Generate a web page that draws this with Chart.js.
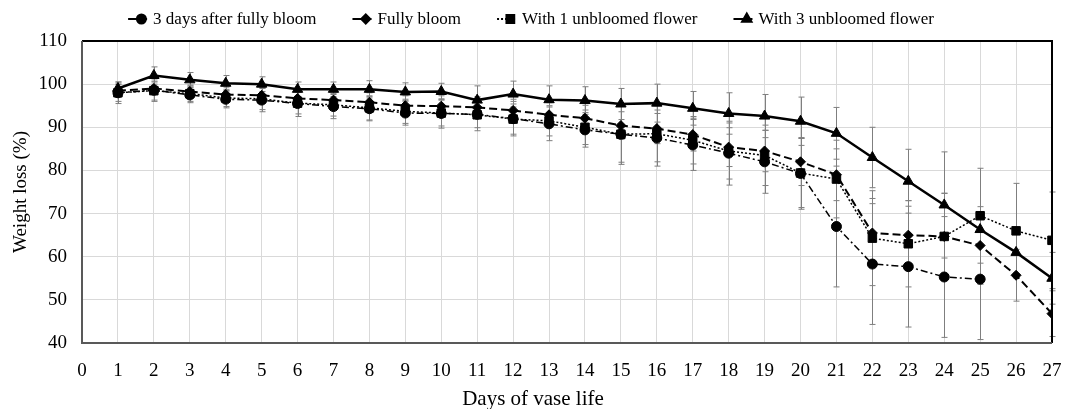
<!DOCTYPE html>
<html lang="en">
  <head>
    <meta charset="UTF-8" />
    <title>Weight loss</title>
    <script src="https://cdn.jsdelivr.net/npm/chart.js"></script>
    <style>
      html, body { margin: 0; padding: 0; background: #fff; overflow: hidden; }
      #wrap { width: 1067px; height: 409px; position: relative; }
    </style>
  </head>
  <body>
    <div id="wrap"><canvas id="weightChart"></canvas></div>

    <script>
// Days of vase life
const days = [1,2,3,4,5,6,7,8,9,10,11,12,13,14,15,16,17,18,19,20,21,22,23,24,25,26,27];
const xTicks = [0,1,2,3,4,5,6,7,8,9,10,11,12,13,14,15,16,17,18,19,20,21,22,23,24,25,26,27];
const yTicks = [40,50,60,70,80,90,100,110];

// 3 days after fully bloom
const threeDays = [98.0,98.6,97.5,96.5,96.3,95.5,94.8,94.3,93.3,93.2,93.0,92.0,90.8,89.4,88.4,87.5,85.9,84.0,82.0,79.3,67.0,58.3,57.7,55.3,54.8,null,null];
const threeDaysErr = [2.5,2.6,1.8,2.0,2.7,3.0,2.8,2.8,2.8,3.4,3.8,4.0,3.9,4.0,7.0,6.5,5.9,7.4,7.3,8.3,14.0,14.0,14.0,14.0,14.0,null,null];

// Fully bloom
const fullyBloom = [98.5,99.0,98.3,97.6,97.4,96.7,96.3,95.8,95.0,94.9,94.6,93.9,92.9,92.1,90.4,89.7,88.3,85.4,84.5,82.0,79.0,65.5,65.0,64.7,62.6,55.7,46.8];
const fullyBloomErr = [1.5,1.5,1.5,1.7,1.8,2.0,2.0,2.2,2.3,2.4,2.5,2.6,2.8,3.0,3.2,3.5,3.8,4.5,4.8,5.5,6.0,8.0,8.0,10.0,9.0,6.0,5.3];

// With 1 unbloomed flower
const oneUnbloomed = [98.0,98.5,97.8,96.8,96.6,95.6,95.2,94.5,93.7,93.3,92.9,91.9,91.5,90.0,88.4,88.5,87.0,84.5,83.5,79.4,78.0,64.3,63.0,64.7,69.5,66.0,63.8];
const oneUnbloomedErr = [2.0,2.2,1.8,2.0,2.5,2.5,2.6,2.8,2.8,3.0,3.0,3.5,3.5,4.0,6.5,6.5,5.5,6.5,7.0,8.0,9.0,11.0,10.0,10.0,11.0,11.0,11.2];

// With 3 unbloomed flower
const threeUnbloomed = [99.0,102.0,101.0,100.2,100.0,98.8,98.8,98.8,98.2,98.3,96.3,97.7,96.4,96.2,95.4,95.6,94.4,93.2,92.6,91.4,88.6,83.0,77.5,72.0,66.3,61.0,55.0];
const threeUnbloomedErr = [1.5,2.0,1.7,1.8,1.7,1.7,1.7,2.0,2.1,1.9,3.3,3.0,3.2,3.2,3.6,4.4,3.9,4.8,5.0,5.6,6.0,7.0,7.4,12.3,4.0,5.0,6.0];

const serif = "'Liberation Serif', 'Times New Roman', serif";

function toPoints(vals) {
  return days.map((d, i) => ({ x: d, y: vals[i] }));
}

function series(label, vals, errs, style, radius, width, dash, legendDash) {
  return {
    label: label,
    data: toPoints(vals),
    errors: errs,
    legendDash: legendDash,
    borderColor: '#000',
    backgroundColor: '#000',
    borderWidth: width,
    borderDash: dash,
    pointStyle: style,
    pointRadius: radius,
    pointBorderWidth: 1,
    pointBackgroundColor: '#000',
    pointBorderColor: '#000',
    tension: 0,
    spanGaps: false
  };
}

// error bars, drawn under the lines
const errorBars = {
  id: 'errorBars',
  beforeDatasetsDraw(chart) {
    const ctx = chart.ctx;
    const xs = chart.scales.x, ys = chart.scales.y;
    ctx.save();
    ctx.strokeStyle = '#7f7f7f';
    ctx.lineWidth = 1;
    chart.data.datasets.forEach(ds => {
      ds.data.forEach((p, i) => {
        const e = ds.errors[i];
        if (p.y == null || e == null) return;
        const px = Math.round(xs.getPixelForValue(p.x)) + 0.5;
        const top = ys.getPixelForValue(p.y + e);
        const bot = ys.getPixelForValue(p.y - e);
        ctx.beginPath();
        ctx.moveTo(px, top); ctx.lineTo(px, bot);
        ctx.moveTo(px - 3, top); ctx.lineTo(px + 3, top);
        ctx.moveTo(px - 3, bot); ctx.lineTo(px + 3, bot);
        ctx.stroke();
      });
    });
    ctx.restore();
  }
};

// frame around the plot, x title and the line+marker legend on top
const frameAndLegend = {
  id: 'frameAndLegend',
  afterDraw(chart) {
    const ctx = chart.ctx;
    const a = chart.chartArea;
    ctx.save();
    ctx.lineWidth = 2;
    ctx.strokeStyle = '#000';
    ctx.beginPath();
    ctx.moveTo(a.left, a.top); ctx.lineTo(a.right, a.top); ctx.lineTo(a.right, a.bottom);
    ctx.stroke();
    ctx.strokeStyle = '#595959';
    ctx.beginPath();
    ctx.moveTo(a.left, a.top); ctx.lineTo(a.left, a.bottom); ctx.lineTo(a.right, a.bottom);
    ctx.stroke();

    ctx.fillStyle = '#000';
    ctx.textBaseline = 'middle';
    ctx.textAlign = 'center';
    ctx.font = '21px ' + serif;
    ctx.fillText('Days of vase life', 533, 399);

    ctx.textAlign = 'left';
    ctx.font = '17px ' + serif;
    const sample = 19, gap = 6, spacing = 36;
    const items = chart.data.datasets;
    let total = 0;
    items.forEach((ds, i) => {
      total += sample + gap + ctx.measureText(ds.label).width + (i < items.length - 1 ? spacing : 0);
    });
    let x = 531 - total / 2;
    const y = 19;
    items.forEach(ds => {
      ctx.strokeStyle = '#000';
      ctx.lineWidth = 2;
      ctx.setLineDash(ds.legendDash);
      ctx.beginPath();
      ctx.moveTo(x, y); ctx.lineTo(x + sample, y);
      ctx.stroke();
      ctx.setLineDash([]);
      Chart.helpers.drawPoint(ctx, {
        pointStyle: ds.pointStyle, radius: ds.pointRadius - 0.5, rotation: 0, borderWidth: 1
      }, x + sample * 0.7, y);
      ctx.fill();
      x += sample + gap;
      ctx.fillText(ds.label, x, y + 1);
      x += ctx.measureText(ds.label).width + spacing;
    });
    ctx.restore();
  }
};

const d1 = series('3 days after fully bloom', threeDays, threeDaysErr, 'circle', 5, 1.5, [7, 3, 2, 3], []);
const d2 = series('Fully bloom', fullyBloom, fullyBloomErr, 'rectRot', 5, 2, [8, 4], []);
const d3 = series('With 1 unbloomed flower', oneUnbloomed, oneUnbloomedErr, 'rect', 6, 1.5, [2, 2], [2, 2]);
const d4 = series('With 3 unbloomed flower', threeUnbloomed, threeUnbloomedErr, 'triangle', 6, 2.5, [], []);

new Chart(document.getElementById('weightChart'), {
  type: 'line',
  data: { datasets: [d1, d2, d3, d4] },
  options: {
    responsive: true,
    maintainAspectRatio: false,
    animation: false,
    layout: { padding: { left: 0, top: 41, right: 15, bottom: 0 } },
    plugins: {
      legend: { display: false },
      tooltip: { enabled: false }
    },
    scales: {
      x: {
        type: 'linear',
        min: 0,
        max: 27,
        afterBuildTicks(scale) { scale.ticks = xTicks.map(v => ({ value: v })); },
        afterFit(scale) { scale.height = 66; scale.paddingLeft = 0; scale.paddingRight = 0; },
        grid: { color: '#d9d9d9', lineWidth: 1, drawTicks: false },
        border: { display: false },
        ticks: { color: '#000', padding: 17, font: { family: serif, size: 19 }, maxRotation: 0, autoSkip: false },
        title: { display: false }
      },
      y: {
        min: 40,
        max: 110,
        afterBuildTicks(scale) { scale.ticks = yTicks.map(v => ({ value: v })); },
        afterFit(scale) { scale.width = 82; },
        grid: { color: '#d9d9d9', lineWidth: 1, drawTicks: false },
        border: { display: false },
        ticks: { color: '#000', padding: 15, font: { family: serif, size: 19 } },
        title: { display: true, text: 'Weight loss (%)', color: '#000', font: { family: serif, size: 19, lineHeight: 1 }, padding: { top: 12, bottom: 0 } }
      }
    }
  },
  plugins: [errorBars, frameAndLegend]
});
    </script>
  </body>
</html>
